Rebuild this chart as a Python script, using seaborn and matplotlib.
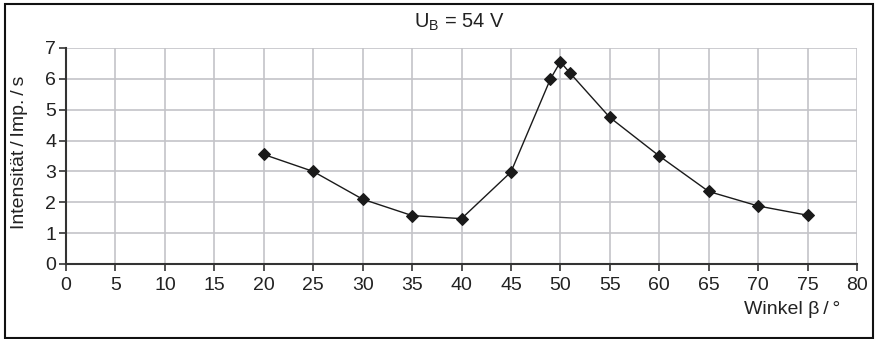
import matplotlib
matplotlib.use("Agg")
import matplotlib.pyplot as plt
import seaborn as sns
import pandas as pd
from matplotlib.patches import Rectangle

winkel = [20, 25, 30, 35, 40, 45, 49, 50, 51, 55, 60, 65, 70, 75]
intensitaet = [3.55, 3.0, 2.1, 1.57, 1.47, 2.98, 6.0, 6.55, 6.18, 4.75, 3.5, 2.35, 1.88, 1.58]
x_ticks = list(range(0, 85, 5))
y_ticks = list(range(0, 8))

sns.set_theme(style="white")
plt.rcParams['font.family'] = ['Liberation Sans', 'DejaVu Sans']

df = pd.DataFrame({"Winkel": winkel, "Intensität": intensitaet})

fig = plt.figure(figsize=(8.8, 3.39), dpi=100)
ax = fig.add_axes([66/880, 1-264/339, (857-66)/880, (264-48)/339])

sns.lineplot(data=df, x="Winkel", y="Intensität", ax=ax, color="#1a1a1a",
             marker="D", markersize=6.5, linewidth=1.0, markeredgecolor="#1a1a1a")

ax.set_xlim(0, 80)
ax.set_ylim(0, 7)
ax.set_xticks(x_ticks)
ax.set_yticks(y_ticks)
ax.grid(True, color="#c4c4c8", linewidth=1.2)
ax.set_axisbelow(True)
for s in ["top", "right"]:
    ax.spines[s].set_visible(False)
for s in ["left", "bottom"]:
    ax.spines[s].set_color("#333333")
    ax.spines[s].set_linewidth(1.5)
ax.tick_params(axis="both", which="major", direction="out", length=5, width=1.2,
               color="#333333", labelsize=14, labelcolor="#222222",
               bottom=True, left=True)
ax.tick_params(axis="x", pad=4)
ax.tick_params(axis="y", pad=2)
ax.set_xlabel("")
ax.set_ylabel("")

fig.text(20/880, 1-152/339, "Intensität\u2009/\u2009Imp.\u2009/\u2009s", rotation=90,
         ha="center", va="center", fontsize=14, color="#222222")
fig.text(840/880, 1-309/339, "Winkel β\u2009/\u2009°", ha="right", va="center",
         fontsize=14, color="#222222")
fig.text(459/880, 1-22/339, r"U$_\mathregular{B}$ = 54 V", ha="center", va="center",
         fontsize=14.5, color="#222222")

fig.patches.append(Rectangle((5/880, 1/339), 868/880, 334/339, transform=fig.transFigure,
                             fill=False, edgecolor="#111111", linewidth=1.5))

fig.savefig("out.png", dpi=100)
